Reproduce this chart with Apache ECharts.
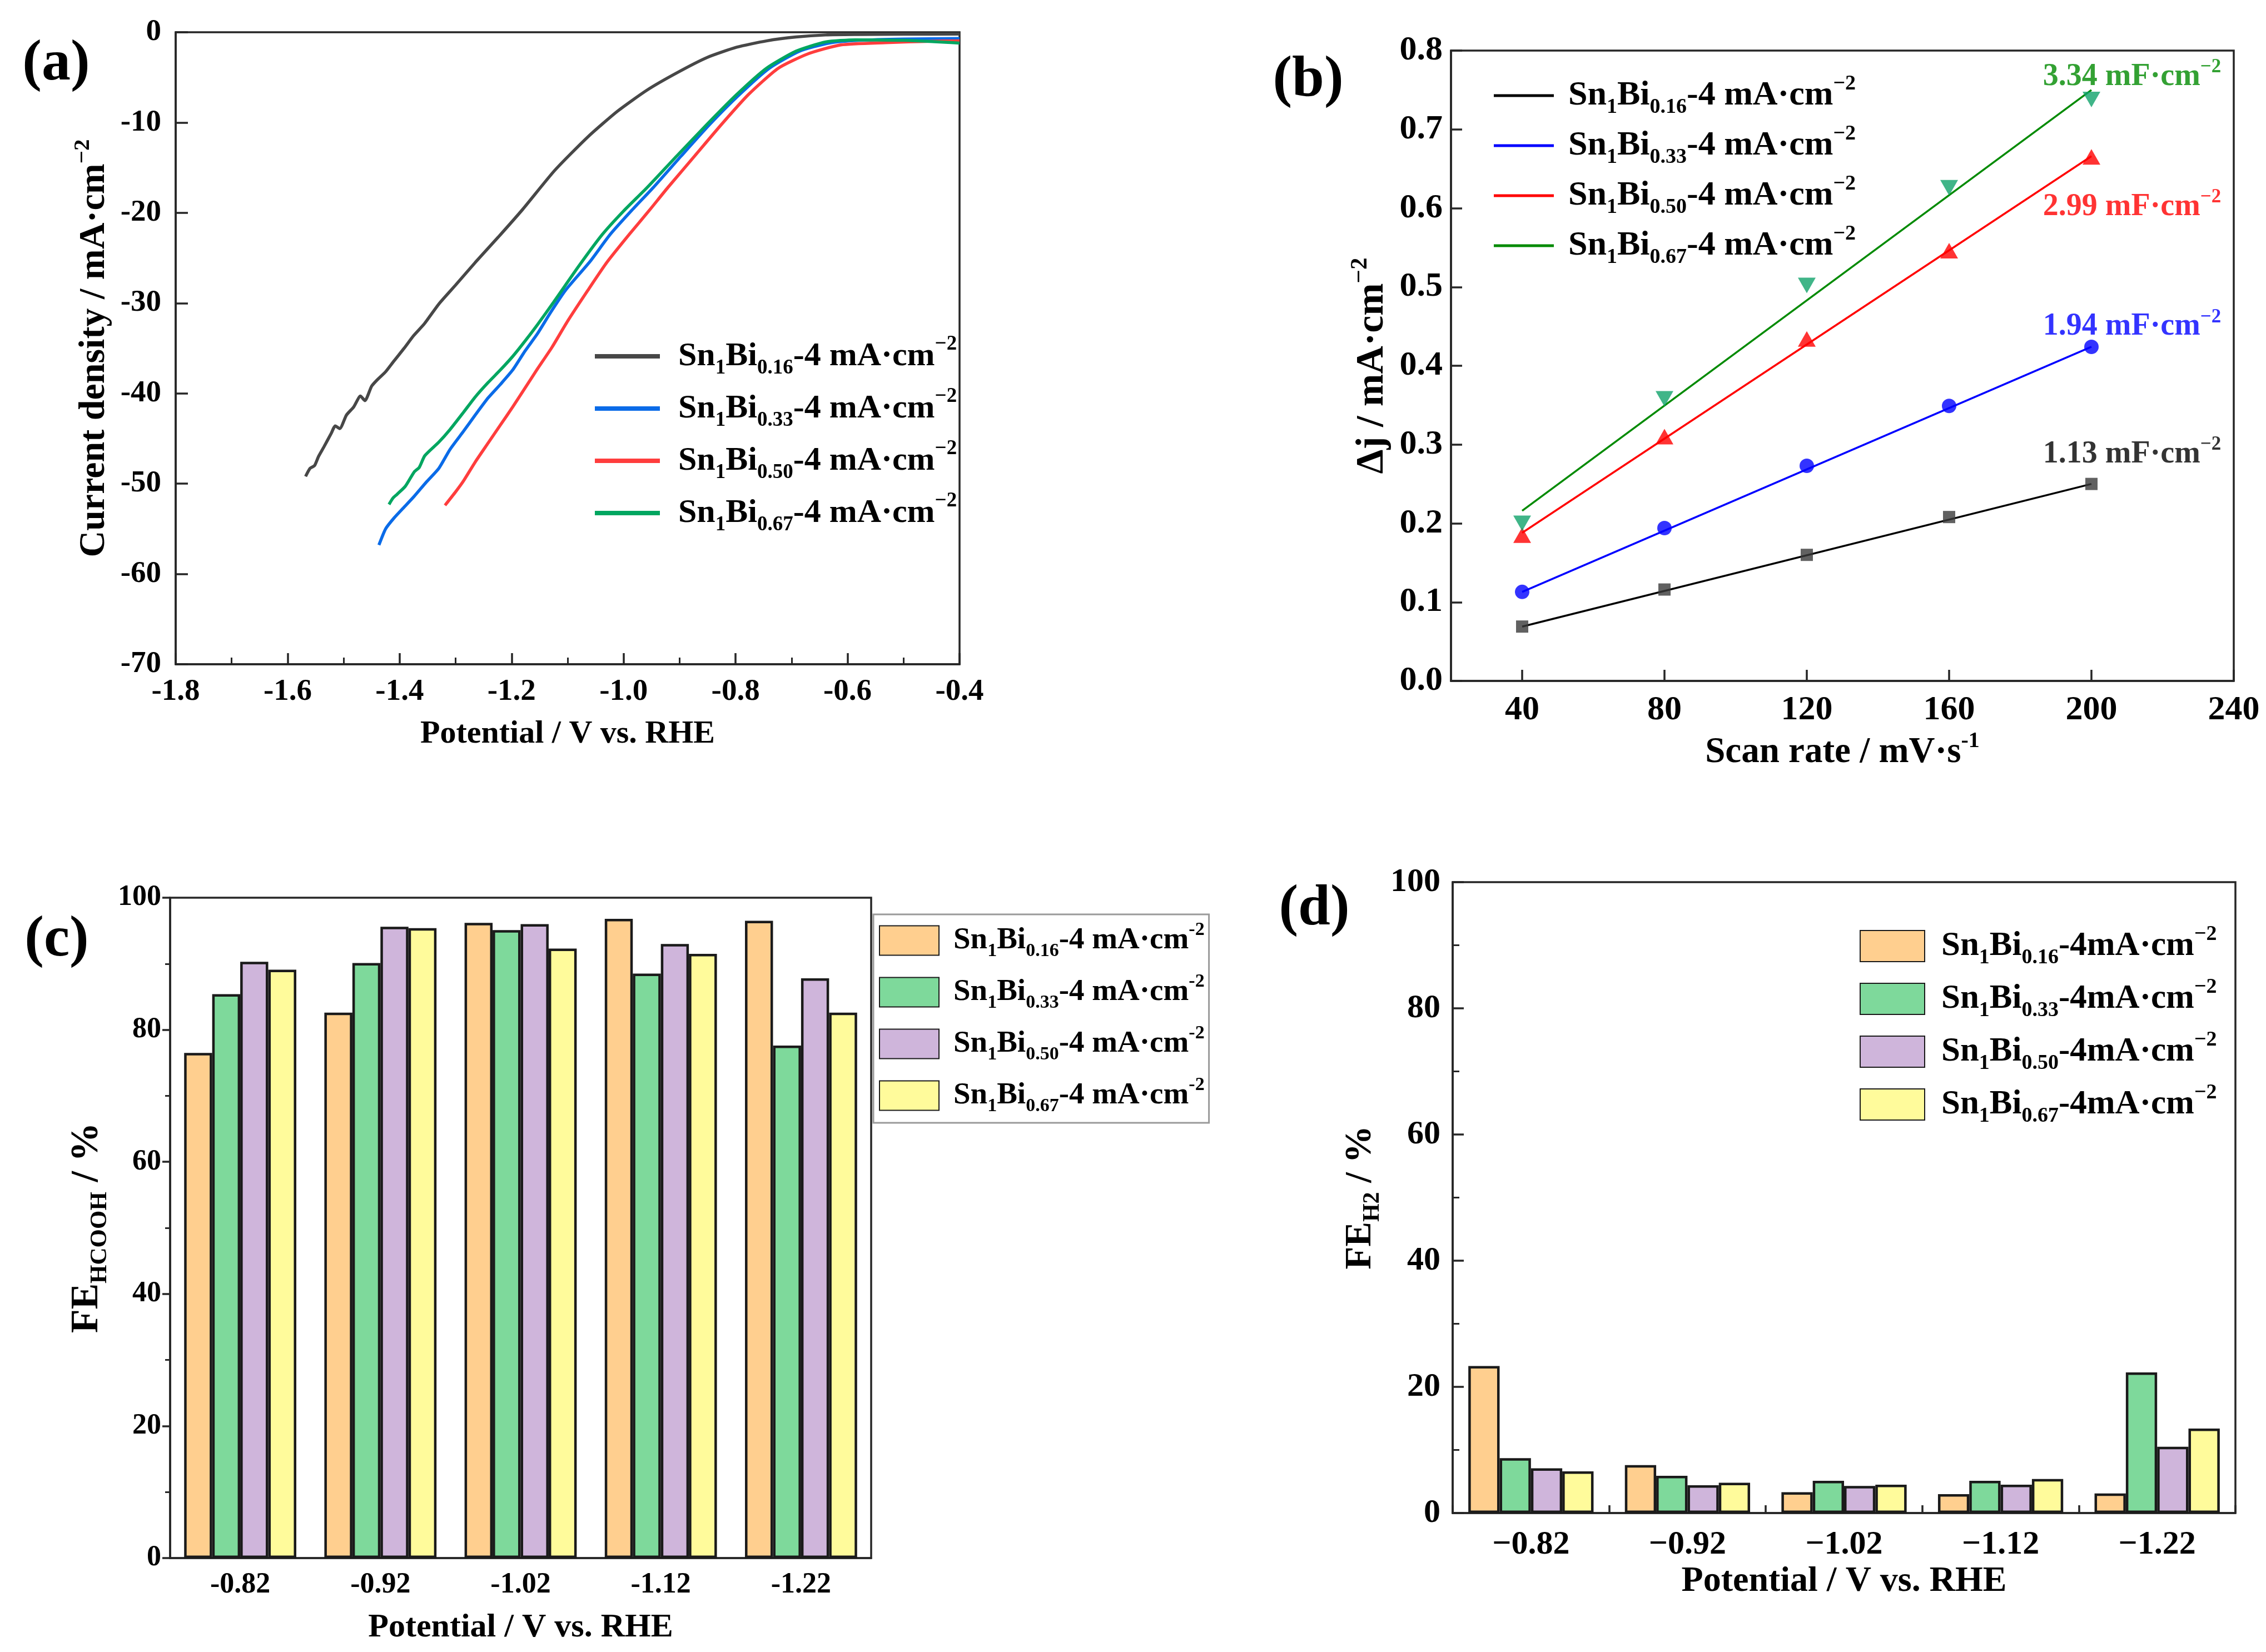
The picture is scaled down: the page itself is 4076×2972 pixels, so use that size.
<!DOCTYPE html>
<html>
<head>
<meta charset="utf-8">
<script src="https://cdn.jsdelivr.net/npm/echarts@6.0.0/dist/echarts.min.js"></script>
<style>
    html, body { margin: 0; padding: 0; background: #fff; }
    #wrap { position: relative; width: 4076px; height: 2972px; overflow: hidden; }
    .panel { position: absolute; width: 2038px; height: 1486px; }
</style>
</head>
<body>
<div id="wrap">
    <div id="pa" class="panel" style="left:0;top:0"></div>
    <div id="pb" class="panel" style="left:2038px;top:0"></div>
    <div id="pc" class="panel" style="left:0;top:1486px;width:2300px"></div>
    <div id="pd" class="panel" style="left:2038px;top:1486px"></div>
</div>
<script>
// --- 数据 ---
const samples = ['0.16', '0.33', '0.50', '0.67'];

// (a) LSV curves: potential (V vs. RHE) / current density (mA·cm-2)
const lsv16V = [-1.568, -1.560, -1.552, -1.545, -1.535, -1.522, -1.515, -1.507, -1.495, -1.482, -1.470, -1.462, -1.450, -1.440, -1.425, -1.410, -1.392, -1.375, -1.356, -1.330, -1.300, -1.265, -1.224, -1.180, -1.123, -1.064, -1.011, -0.958, -0.905, -0.851, -0.798, -0.745, -0.692, -0.639, -0.580, -0.500, -0.400];
const lsv16J = [-49.2, -48.3, -48.0, -47.0, -45.9, -44.4, -43.6, -43.9, -42.4, -41.5, -40.3, -40.8, -39.2, -38.5, -37.6, -36.4, -35.0, -33.6, -32.3, -30.1, -28.0, -25.5, -22.7, -19.6, -15.3, -11.6, -8.75, -6.4, -4.5, -2.8, -1.66, -0.96, -0.53, -0.30, -0.25, -0.22, -0.20];
const lsv33V = [-1.437, -1.425, -1.410, -1.392, -1.374, -1.352, -1.330, -1.310, -1.286, -1.265, -1.242, -1.220, -1.198, -1.176, -1.154, -1.130, -1.104, -1.060, -1.024, -0.985, -0.947, -0.897, -0.846, -0.793, -0.740, -0.686, -0.633, -0.580, -0.500, -0.400];
const lsv33J = [-56.8, -55.0, -53.8, -52.6, -51.4, -49.8, -48.3, -46.2, -44.2, -42.4, -40.5, -39.0, -37.4, -35.3, -33.4, -31.0, -28.6, -25.4, -22.4, -19.7, -17.2, -13.7, -10.2, -6.9, -4.0, -2.1, -1.2, -0.9, -0.75, -0.7];
const lsv50V = [-1.319, -1.300, -1.286, -1.265, -1.242, -1.220, -1.198, -1.176, -1.154, -1.128, -1.100, -1.064, -1.030, -0.990, -0.955, -0.921, -0.873, -0.825, -0.777, -0.724, -0.671, -0.612, -0.532, -0.450, -0.400];
const lsv50J = [-52.4, -50.9, -49.7, -47.6, -45.5, -43.5, -41.5, -39.4, -37.3, -34.9, -32.0, -28.6, -25.5, -22.4, -19.8, -17.2, -13.7, -10.2, -6.9, -4.0, -2.4, -1.4, -1.15, -1.0, -0.95];
const lsv67V = [-1.419, -1.412, -1.405, -1.390, -1.374, -1.365, -1.355, -1.330, -1.310, -1.286, -1.265, -1.242, -1.220, -1.198, -1.176, -1.154, -1.125, -1.080, -1.038, -1.000, -0.958, -0.905, -0.851, -0.798, -0.745, -0.692, -0.639, -0.586, -0.500, -0.400];
const lsv67J = [-52.3, -51.6, -51.2, -50.3, -48.7, -48.2, -46.9, -45.4, -44.0, -42.1, -40.4, -38.8, -37.4, -35.9, -34.2, -32.4, -29.9, -25.9, -22.4, -19.8, -17.2, -13.7, -10.2, -6.9, -4.0, -2.1, -1.07, -0.84, -0.90, -1.20];
const potentialTicksA = [-1.8, -1.6, -1.4, -1.2, -1.0, -0.8, -0.6, -0.4];

// (b) double-layer capacitance
const scanRates = [40, 80, 120, 160, 200];
const scanTicks = [40, 80, 120, 160, 200, 240];
const dj16 = [0.069, 0.116, 0.160, 0.208, 0.250];
const dj33 = [0.113, 0.194, 0.273, 0.349, 0.424];
const dj50 = [0.185, 0.310, 0.434, 0.546, 0.665];
const dj67 = [0.200, 0.358, 0.502, 0.626, 0.738];
const fitRange = [40, 200];
const fit16 = [0.069, 0.250];
const fit33 = [0.113, 0.424];
const fit50 = [0.188, 0.666];
const fit67 = [0.216, 0.750];
const capValues = ['1.13', '1.94', '2.99', '3.34'];

// (c)(d) Faradaic efficiency
const potentials = ['-0.82', '-0.92', '-1.02', '-1.12', '-1.22'];
const feHCOOH16 = [76.5, 82.6, 96.2, 96.8, 96.5];
const feHCOOH33 = [85.4, 90.1, 95.1, 88.5, 77.6];
const feHCOOH50 = [90.3, 95.6, 96.0, 93.0, 87.8];
const feHCOOH67 = [89.1, 95.4, 92.3, 91.5, 82.6];
const feH2_16 = [23.3, 7.6, 3.3, 3.0, 3.1];
const feH2_33 = [8.7, 5.9, 5.1, 5.1, 22.3];
const feH2_50 = [7.1, 4.4, 4.3, 4.5, 10.5];
const feH2_67 = [6.6, 4.8, 4.5, 5.4, 13.4];

// --- 样式 ---
const FONT = '"Liberation Serif", "Times New Roman", serif';
const AX = '#262626';
const lsvColors = ['#474747', '#0A6BE8', '#FF3D3D', '#00A660'];
const fitColors = ['#000000', '#0000FF', '#FF0000', '#008A00'];
const markerColors = ['#3A3A3A', '#0000FF', '#FF0000', '#10A36A'];
const barColors = ['#FFCF8F', '#7ED99B', '#CFB5DB', '#FFFB9B'];
const capLabelOffset = [[73, -53], [73, -36], [73, 92], [73, -23]];

const zip = (xs, ys) => xs.map((x, i) => [x, ys[i]]);

const rich = (F, L, gap, color) => {
    const c = color || '#000';
    const sub = Math.round(F * 0.62);
    return {
        g: { width: gap || 0 },
        n: { fontFamily: FONT, fontWeight: 'bold', fontSize: F, lineHeight: L, color: c },
        s: { fontFamily: FONT, fontWeight: 'bold', fontSize: sub, verticalAlign: 'bottom', color: c },
        p: { fontFamily: FONT, fontWeight: 'bold', fontSize: sub, verticalAlign: 'top', color: c }
    };
};

const seriesName = (i, space) => 'Sn1Bi' + samples[i] + '-4' + space + 'mA·cm-2';
const legendFormatter = (names, space, minus) => (name) => {
    const i = names.indexOf(name);
    return '{g| }{n|Sn}{s|1}{n|Bi}{s|' + samples[i] + '}{n|-4' + space + 'mA·cm}{p|' + minus + '2}';
};

const labelFont = (size) => ({ fontFamily: FONT, fontWeight: 'bold', fontSize: size, color: '#000' });

const panelLabel = (text, x, y) => ({
    type: 'text', x: x, y: y, z: 100,
    style: {
        text: text, font: 'bold 104px ' + FONT, fill: '#000',
        textAlign: 'center', textVerticalAlign: 'middle', align: 'center', verticalAlign: 'middle'
    }
});

const axisCommon = (inside, tickLen) => ({
    axisLine: { show: true, onZero: false, lineStyle: { color: AX, width: 3.5 } },
    axisTick: { show: true, inside: inside, length: tickLen, lineStyle: { color: AX, width: 3.5 } },
    splitLine: { show: false }
});

const gridBox = (l, t, w, h) => ({
    left: l, top: t, width: w, height: h,
    show: true, borderColor: AX, borderWidth: 3.5, backgroundColor: 'transparent'
});

// --- (a) LSV ---
const chartA = echarts.init(document.getElementById('pa'));
const namesA = [0, 1, 2, 3].map(i => seriesName(i, ' '));
const lsvV = [lsv16V, lsv33V, lsv50V, lsv67V];
const lsvJ = [lsv16J, lsv33J, lsv50J, lsv67J];
chartA.setOption({
    animation: false,
    graphic: [panelLabel('(a)', 101, 116)],
    grid: gridBox(316, 58, 1410, 1137),
    legend: {
        orient: 'vertical', left: 1065, top: 596, itemWidth: 117, itemHeight: 8, itemGap: 14, icon: 'rect',
        data: namesA, formatter: legendFormatter(namesA, ' ', '−'),
        textStyle: { rich: rich(60, 80, 28) }
    },
    xAxis: Object.assign(axisCommon(true, 20), {
        type: 'value', position: 'bottom',
        min: potentialTicksA[0], max: potentialTicksA[potentialTicksA.length - 1], interval: 0.2,
        name: '{n|Potential / V vs. RHE}', nameLocation: 'middle', nameGap: 90,
        nameTextStyle: { rich: rich(58, 72) },
        minorTick: { show: true, splitNumber: 2, length: 12, lineStyle: { color: AX, width: 3 } },
        axisLabel: Object.assign({ margin: 22, formatter: v => v.toFixed(1) }, labelFont(55))
    }),
    yAxis: Object.assign(axisCommon(true, 22), {
        type: 'value', min: -70, max: 0, interval: 10,
        name: '{n|Current density / mA·cm}{p|−2}', nameLocation: 'middle', nameGap: 105,
        nameTextStyle: { rich: rich(66, 82) },
        axisLabel: Object.assign({ margin: 26 }, labelFont(55))
    }),
    series: namesA.map((name, i) => ({
        type: 'line', name: name, data: zip(lsvV[i], lsvJ[i]),
        symbol: 'none', smooth: 0.2,
        lineStyle: { width: 5.5, color: lsvColors[i] }, itemStyle: { color: lsvColors[i] }
    }))
});

// --- (b) Cdl ---
const chartB = echarts.init(document.getElementById('pb'));
const namesB = [0, 1, 2, 3].map(i => seriesName(i, ' '));
const djs = [dj16, dj33, dj50, dj67];
const fits = [fit16, fit33, fit50, fit67];
const markerSymbols = ['rect', 'circle', 'triangle', 'triangle'];
const markerSizes = [[22, 22], [26, 26], [32, 28], [32, 28]];
const markerRotate = [0, 0, 0, 180];
const seriesB = [];
namesB.forEach((name, i) => {
    seriesB.push({
        type: 'line', name: name, data: zip(fitRange, fits[i]), symbol: 'none', z: 2,
        lineStyle: { width: 3.5, color: fitColors[i] }, itemStyle: { color: fitColors[i] }
    });
    seriesB.push({
        type: 'scatter', name: name + ' data', data: zip(scanRates, djs[i]), z: 3,
        symbol: markerSymbols[i], symbolSize: markerSizes[i], symbolRotate: markerRotate[i],
        itemStyle: { color: markerColors[i] }
    });
    seriesB.push({
        type: 'scatter', name: name + ' Cdl', silent: true, z: 4,
        data: [[fitRange[1], fits[i][1]]], symbolSize: 0.1, itemStyle: { color: 'transparent' },
        label: {
            show: true, position: 'inside', offset: capLabelOffset[i],
            formatter: '{n|' + capValues[i] + ' mF·cm}{p|−2}',
            rich: rich(56, 70, 0, fitColors[i])
        }
    });
});
chartB.setOption({
    animation: false,
    graphic: [panelLabel('(b)', 315, 145)],
    grid: gridBox(572, 91, 1408, 1134),
    legend: {
        orient: 'vertical', left: 644, top: 127, itemWidth: 108, itemHeight: 5, itemGap: 10, icon: 'rect',
        data: namesB, formatter: legendFormatter(namesB, ' ', '−'),
        textStyle: { rich: rich(62, 80, 21) }
    },
    xAxis: Object.assign(axisCommon(true, 20), {
        type: 'value', position: 'bottom', min: 20, max: 240,
        name: '{n|Scan rate / mV·s}{p|-1}', nameLocation: 'middle', nameGap: 70,
        nameTextStyle: { rich: rich(65, 81) },
        axisTick: { show: true, inside: true, length: 20, customValues: scanTicks, lineStyle: { color: AX, width: 3.5 } },
        axisLabel: Object.assign({ margin: 22, customValues: scanTicks }, labelFont(62))
    }),
    yAxis: Object.assign(axisCommon(true, 20), {
        type: 'value', min: 0, max: 0.8, interval: 0.1,
        name: '{n|Δj / mA·cm}{p|−2}', nameLocation: 'middle', nameGap: 97,
        nameTextStyle: { rich: rich(70, 88) },
        axisLabel: Object.assign({ margin: 15, formatter: v => v.toFixed(1) }, labelFont(62))
    }),
    series: seriesB
});

// --- (c) FE HCOOH ---
const chartC = echarts.init(document.getElementById('pc'));
const namesC = [0, 1, 2, 3].map(i => seriesName(i, ' '));
const feC = [feHCOOH16, feHCOOH33, feHCOOH50, feHCOOH67];
chartC.setOption({
    animation: false,
    graphic: [panelLabel('(c)', 102, 206)],
    grid: gridBox(306, 129, 1261, 1188),
    legend: {
        orient: 'vertical', left: 1571, top: 159, padding: [11, 8, 13, 10],
        itemWidth: 107, itemHeight: 53, itemGap: 21, icon: 'rect',
        borderColor: '#9a9a9a', borderWidth: 3, backgroundColor: '#fff',
        data: namesC, formatter: legendFormatter(namesC, ' ', '-'),
        textStyle: { rich: rich(55, 72, 21) }
    },
    xAxis: Object.assign(axisCommon(false, 14), {
        type: 'category', data: potentials,
        axisTick: { show: false },
        name: '{n|Potential / V vs. RHE}', nameLocation: 'middle', nameGap: 88,
        nameTextStyle: { rich: rich(60, 75) },
        axisLabel: Object.assign({ margin: 23 }, labelFont(52))
    }),
    yAxis: Object.assign(axisCommon(false, 14), {
        type: 'value', min: 0, max: 100, interval: 20,
        minorTick: { show: true, splitNumber: 2, length: 9, lineStyle: { color: AX, width: 3 } },
        name: '{n|FE}{s|HCOOH}{n| / %}', nameLocation: 'middle', nameGap: 80,
        nameTextStyle: { rich: rich(70, 88) },
        axisLabel: Object.assign({ margin: 16 }, labelFont(52))
    }),
    series: namesC.map((name, i) => ({
        type: 'bar', name: name, data: feC[i], barGap: '0%', barCategoryGap: '20%',
        itemStyle: { color: barColors[i], borderColor: '#1a1a1a', borderWidth: 4.5 }
    }))
});

// --- (d) FE H2 ---
const chartD = echarts.init(document.getElementById('pd'));
const namesD = [0, 1, 2, 3].map(i => seriesName(i, ''));
const feD = [feH2_16, feH2_33, feH2_50, feH2_67];
chartD.setOption({
    animation: false,
    graphic: [panelLabel('(d)', 326, 150)],
    grid: gridBox(575, 101, 1408, 1135),
    legend: {
        orient: 'vertical', left: 1302, top: 171, itemWidth: 116, itemHeight: 56, itemGap: 15, icon: 'rect',
        data: namesD, formatter: legendFormatter(namesD, '', '−'),
        textStyle: { rich: rich(61, 80, 25) }
    },
    xAxis: Object.assign(axisCommon(true, 14), {
        type: 'category', data: potentials,
        name: '{n|Potential / V vs. RHE}', nameLocation: 'middle', nameGap: 80,
        nameTextStyle: { rich: rich(64, 80) },
        axisLabel: Object.assign({ margin: 27, formatter: v => v.replace('-', '−') }, labelFont(60))
    }),
    yAxis: Object.assign(axisCommon(true, 20), {
        type: 'value', min: 0, max: 100, interval: 20,
        minorTick: { show: true, splitNumber: 2, length: 12, lineStyle: { color: AX, width: 3 } },
        name: '{n|FE}{s|H2}{n| / %}', nameLocation: 'middle', nameGap: 90,
        nameTextStyle: { rich: rich(67, 84) },
        axisLabel: Object.assign({ margin: 22 }, labelFont(60))
    }),
    series: namesD.map((name, i) => ({
        type: 'bar', name: name, data: feD[i], barGap: '0%', barCategoryGap: '20%',
        itemStyle: { color: barColors[i], borderColor: '#1a1a1a', borderWidth: 4.5 }
    }))
});
</script>
</body>
</html>
